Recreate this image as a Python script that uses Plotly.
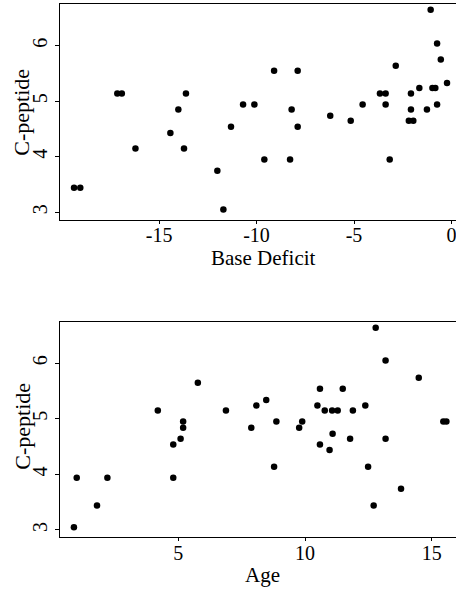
import plotly.graph_objects as go

# Panel 1: Base Deficit vs C-peptide
base_deficit = [-19.36, -19.04, -17.14, -16.91, -16.21, -14.42, -14.01, -13.72, -13.62,
                -11.70, -12.01, -11.31, -10.69, -10.11, -9.60, -9.10, -8.28, -8.20, -7.89, -7.89,
                -6.22, -5.17, -4.56, -3.67, -3.38, -3.38, -3.17, -2.86, -2.08, -2.08,
                -2.19, -1.96, -1.65, -1.26, -1.07, -0.98, -0.83, -0.74, -0.74, -0.55, -0.23]
cpep_bd = [3.44, 3.44, 5.14, 5.14, 4.15, 4.43, 4.85, 4.15, 5.14,
           3.05, 3.75, 4.54, 4.94, 4.94, 3.95, 5.55, 3.95, 4.85, 5.55, 4.54,
           4.74, 4.65, 4.94, 5.14, 5.14, 4.94, 3.95, 5.64, 5.14, 4.85,
           4.65, 4.65, 5.24, 4.85, 6.65, 5.24, 5.24, 6.04, 4.94, 5.75, 5.33]

# Panel 2: Age vs C-peptide
age = [0.88, 0.99, 1.79, 2.20, 4.19, 4.80, 4.80, 5.09, 5.19, 5.19, 5.77,
       6.88, 7.88, 8.08, 8.47, 8.78, 8.87, 9.77, 9.89, 10.49, 10.59, 10.59, 10.78, 10.97,
       11.07, 11.29, 11.09, 11.49, 11.78, 11.89, 12.38, 12.49, 12.71, 12.79, 13.18, 13.18,
       13.79, 14.49, 15.46, 15.58]
cpep_age = [3.05, 3.94, 3.44, 3.94, 5.15, 3.94, 4.54, 4.64, 4.84, 4.95, 5.65,
            5.15, 4.84, 5.24, 5.34, 4.14, 4.95, 4.84, 4.95, 5.24, 5.54, 4.54, 5.15, 4.44,
            5.15, 5.15, 4.73, 5.54, 4.64, 5.15, 5.24, 4.14, 3.44, 6.64, 6.05, 4.64,
            3.74, 5.74, 4.95, 4.95]

y_ticks = [3, 4, 5, 6]
bd_ticks = [-15, -10, -5, 0]
bd_ticktext = ["-15", "-10", "-5", "0"]
age_ticks = [5, 10, 15]

W, H = 456, 591
FONT = "Liberation Serif"
tickfont = dict(family=FONT, size=20, color="black")


def px_x(v):
    return v / W


def px_y(v):
    return 1 - v / H


fig = go.Figure()
fig.add_trace(go.Scatter(x=base_deficit, y=cpep_bd, mode="markers",
                         marker=dict(color="black", size=6.5), xaxis="x", yaxis="y",
                         showlegend=False, hoverinfo="skip"))
fig.add_trace(go.Scatter(x=age, y=cpep_age, mode="markers",
                         marker=dict(color="black", size=6.5), xaxis="x2", yaxis="y2",
                         showlegend=False, hoverinfo="skip"))

xdom = [px_x(60), 1.0]
axis_common = dict(showgrid=False, zeroline=False, showline=True, linecolor="black",
                   linewidth=1, ticks="outside", tickcolor="black", tickfont=tickfont,
                   automargin=False, ticklabeloverflow="allow")

fig.update_layout(
    width=W, height=H,
    margin=dict(l=0, r=0, t=0, b=0),
    paper_bgcolor="white", plot_bgcolor="white",
    xaxis=dict(domain=xdom, range=[-20.08, 0.23], anchor="y", mirror=True,
               tickvals=bd_ticks, ticktext=bd_ticktext, ticklen=3,
               ticklabelstandoff=-6, **axis_common),
    yaxis=dict(domain=[px_y(220), px_y(4.3)], range=[2.861, 6.746], anchor="x",
               tickvals=y_ticks, tickangle=-90, ticklen=4, **axis_common),
    xaxis2=dict(domain=xdom, range=[0.33, 15.96], anchor="y2", mirror=True,
                tickvals=age_ticks, ticklen=3, ticklabelstandoff=-5, **axis_common),
    yaxis2=dict(domain=[px_y(536.7), px_y(321.7)], range=[2.879, 6.748], anchor="x2",
                tickvals=y_ticks, tickangle=-90, ticklen=4, **axis_common),
)

anns = [
    ("Base Deficit", 263.5, 258, 0, 21),
    ("Age", 262, 575, 0, 21),
    ("C-peptide", 21.7, 112, -90, 22),
    ("C-peptide", 21.7, 426, -90, 22),
]
for text, px, py, ang, fs in anns:
    fig.add_annotation(text=text, xref="paper", yref="paper", x=px_x(px), y=px_y(py),
                       xanchor="center", yanchor="middle", showarrow=False,
                       textangle=ang, font=dict(family=FONT, size=fs, color="black"))

fig.write_html("out.html", config={"displayModeBar": False, "staticPlot": True},
               post_script="document.body.style.margin='0';document.body.style.overflow='hidden';")
